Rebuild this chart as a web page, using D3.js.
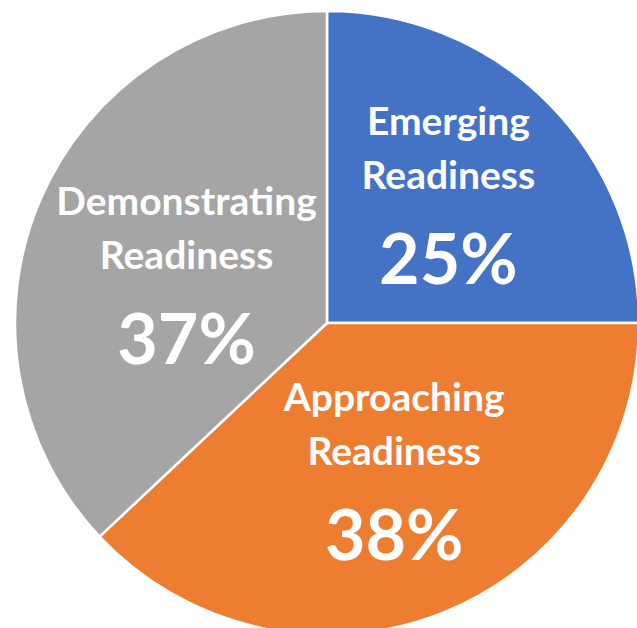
<!DOCTYPE html>
<html><head><meta charset="utf-8">
<script src="https://cdn.jsdelivr.net/npm/d3@7"></script>
<style>html,body{margin:0;padding:0;background:#fff;overflow:hidden}</style>
</head><body>
<svg id="c" width="637" height="628"></svg>
<script>
const categories = ["Emerging Readiness", "Approaching Readiness", "Demonstrating Readiness"];
const nameLine1 = ["Emerging", "Approaching", "Demonstrating"];
const nameLine2 = ["Readiness", "Readiness", "Readiness"];
const values = [25, 38, 37];
const colors = ["#4472C4", "#ED7D31", "#A5A5A5"];

const svg = d3.select("#c");
const cx = 327, cy = 323, R = 312;
const g = svg.append("g").attr("transform", `translate(${cx},${cy})`);
const data = values.map((v, i) => ({v, i}));
const pie = d3.pie().value(d => d.v).sort(null);
const arcs = pie(data);
const arc = d3.arc().innerRadius(0).outerRadius(R);
g.selectAll("path").data(arcs).join("path")
  .attr("d", arc).attr("fill", d => colors[d.data.i])
  .attr("stroke", "#fff").attr("stroke-width", 2.5).attr("stroke-linejoin", "round");

const nudge = [[0, 8], [4, 3], [17, 35]];
const font = "Lato, 'Open Sans', sans-serif";
const lab = g.selectAll("g.lab").data(arcs).join("g").attr("class", "lab")
  .attr("transform", d => {
    const a = (d.startAngle + d.endAngle) / 2, r = R * 0.55;
    const n = nudge[d.data.i];
    return `translate(${Math.sin(a) * r + n[0]},${-Math.cos(a) * r + n[1]})`;
  });
lab.append("text").attr("y", -75).text(d => nameLine1[d.data.i]);
lab.append("text").attr("y", -21).text(d => nameLine2[d.data.i]);
lab.append("text").attr("y", 74).attr("class", "pct").text(d => d.data.v + "%");
lab.selectAll("text").attr("text-anchor", "middle").attr("fill", "#fff")
  .attr("font-family", font).attr("font-weight", "bold").attr("font-size", 39);
lab.selectAll("text.pct").attr("font-size", 70);
</script>
</body></html>
